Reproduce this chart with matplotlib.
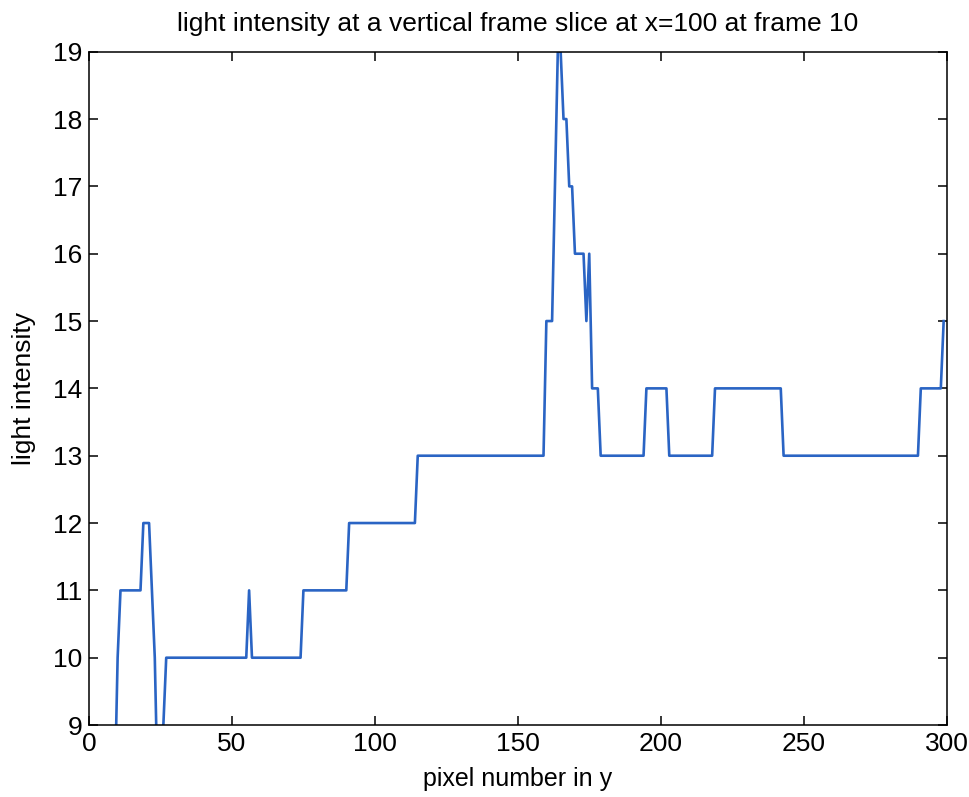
import numpy as np
import matplotlib
matplotlib.use("Agg")
import matplotlib.pyplot as plt

# Intensity profile along a vertical slice, stored as runs of equal values
run_values = [8, 10, 11, 12, 11, 10, 8, 9, 10, 11, 10, 11, 12, 13,
              15, 17, 19, 18, 17, 16, 15, 16, 14, 13, 14, 13, 14, 13, 14, 15]
run_lengths = [10, 1, 8, 3, 1, 1, 2, 1, 29, 1, 18, 16, 24, 45,
               3, 1, 2, 2, 2, 4, 1, 1, 3, 16, 8, 16, 24, 48, 8, 1]

x_ticks = [0, 50, 100, 150, 200, 250, 300]
y_ticks = [9, 10, 11, 12, 13, 14, 15, 16, 17, 18, 19]

title_text = "light intensity at a vertical frame slice at x=100 at frame 10"
x_label = "pixel number in y"
y_label = "light intensity"

intensity = np.repeat(run_values, run_lengths)
pixel = np.arange(len(intensity))

plt.rcParams["font.family"] = ["Liberation Sans", "DejaVu Sans"]
plt.rcParams["font.size"] = 19

fig = plt.figure(figsize=(9.70, 7.97), dpi=100)
ax = fig.add_axes([0.0918, 0.0903, 0.8840, 0.8448])

ax.plot(pixel, intensity, color="#2a64c4", linewidth=1.9)

ax.set_xlim(0, 300)
ax.set_ylim(9, 19)
ax.set_xticks(x_ticks)
ax.set_yticks(y_ticks)
ax.tick_params(direction="in", length=6.5, width=1.1, top=True, right=True,
               labelsize=19, pad=5)
for spine in ax.spines.values():
    spine.set_linewidth(1.1)
    spine.set_color("black")

ax.set_title(title_text, fontsize=19, pad=15)
ax.set_xlabel(x_label, fontsize=18, labelpad=8)
ax.set_ylabel(y_label, fontsize=19, labelpad=12)

fig.savefig("out.png", dpi=100)
